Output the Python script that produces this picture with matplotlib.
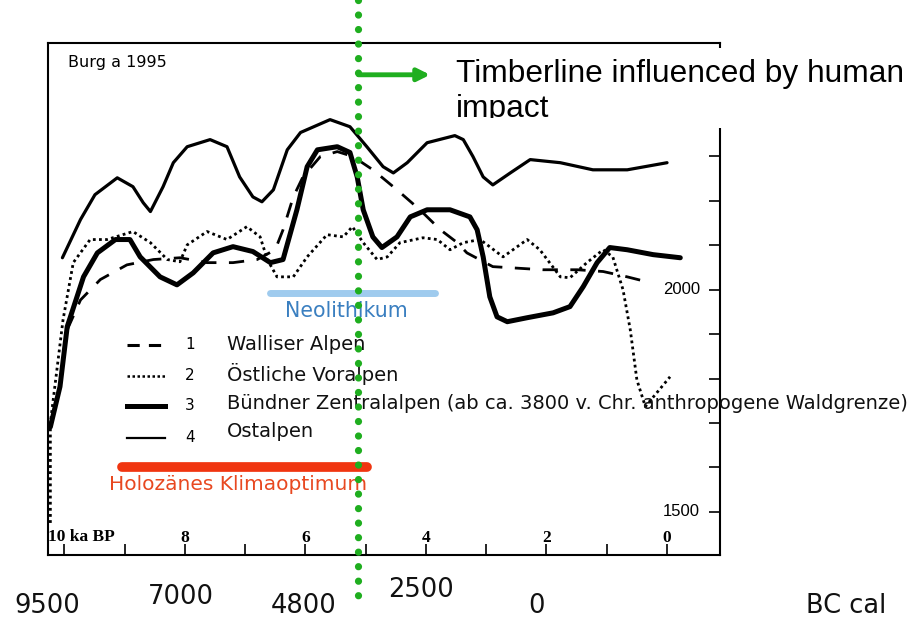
import matplotlib
matplotlib.use("Agg")
import matplotlib.pyplot as plt
import matplotlib.transforms as mtransforms
from matplotlib.patches import Rectangle

# timberline curves (x: ka BP, y: m a.s.l.), read from Burga 1995
walliser_ka = [9.95, 9.73, 9.40, 8.96, 8.52, 8.08, 7.63, 7.20, 6.80, 6.50,
               6.37, 6.20, 6.04, 5.75, 5.47, 5.21, 4.88, 4.48, 4.10, 3.76,
               3.48, 3.32, 2.89, 2.06, 1.49, 1.06, 0.66, 0.28]
walliser_m = [1910, 1977, 2023, 2056, 2068, 2072, 2061, 2061, 2068, 2090,
              2135, 2209, 2254, 2300, 2311, 2300, 2270, 2225, 2180, 2135,
              2106, 2083, 2052, 2045, 2045, 2041, 2029, 2016]

voralpen_ka = [10.23, 10.23, 10.02, 9.85, 9.57, 9.29, 8.86, 8.57, 8.29, 8.08,
               7.96, 7.63, 7.30, 6.97, 6.75, 6.63, 6.47, 6.20, 5.97, 5.64,
               5.37, 5.22, 5.04, 4.81, 4.64, 4.43, 4.05, 3.81, 3.60, 3.38,
               3.10, 2.72, 2.32, 2.11, 1.77, 1.61, 1.33, 1.06, 0.90, 0.73,
               0.61, 0.50, 0.36, 0.17, -0.05]
voralpen_m = [1475, 1700, 1932, 2061, 2113, 2113, 2131, 2106, 2068, 2063,
              2101, 2131, 2113, 2142, 2119, 2068, 2029, 2029, 2074, 2124,
              2119, 2142, 2106, 2068, 2074, 2106, 2117, 2113, 2090, 2106,
              2113, 2074, 2113, 2090, 2029, 2027, 2061, 2090, 2074, 2000,
              1910, 1797, 1737, 1768, 1804]

buendner_ka = [10.23, 10.07, 9.95, 9.68, 9.45, 9.15, 8.91, 8.74, 8.41, 8.13,
               7.86, 7.53, 7.20, 6.87, 6.58, 6.37, 6.14, 5.97, 5.80, 5.47,
               5.26, 5.14, 5.04, 4.88, 4.73, 4.48, 4.26, 3.98, 3.60, 3.27,
               3.15, 3.05, 2.94, 2.82, 2.65, 2.32, 1.89, 1.61, 1.39, 1.16,
               0.95, 0.66, 0.23, -0.22]
buendner_m = [1691, 1782, 1917, 2029, 2083, 2113, 2113, 2074, 2029, 2011,
              2038, 2083, 2097, 2086, 2061, 2068, 2180, 2277, 2315, 2322,
              2309, 2254, 2180, 2119, 2095, 2119, 2164, 2180, 2180, 2164,
              2135, 2074, 1984, 1939, 1928, 1937, 1948, 1962, 2007, 2061,
              2095, 2090, 2079, 2072]

ostalpen_ka = [10.03, 9.73, 9.49, 9.12, 8.86, 8.69, 8.57, 8.36, 8.19, 7.96,
               7.58, 7.30, 7.09, 6.87, 6.72, 6.53, 6.30, 6.08, 5.59, 5.26,
               4.98, 4.71, 4.54, 4.31, 3.98, 3.52, 3.38, 3.22, 3.05, 2.89,
               2.60, 2.27, 1.77, 1.23, 0.66, 0.00]
ostalpen_m = [2072, 2158, 2214, 2252, 2232, 2196, 2176, 2232, 2286, 2322,
              2338, 2322, 2254, 2209, 2198, 2225, 2315, 2354, 2383, 2367,
              2322, 2277, 2263, 2286, 2331, 2347, 2338, 2300, 2254, 2236,
              2263, 2293, 2286, 2270, 2270, 2286]

legend_labels = ["Walliser Alpen", "Östliche Voralpen",
                 "Bündner Zentralalpen (ab ca. 3800 v. Chr. anthropogene Waldgrenze)",
                 "Ostalpen"]

# periods (start ka, end ka, height m)
neolithikum = [6.58, 3.85, 1993]
klimaoptimum = [9.04, 4.98, 1601]
human_impact_ka = 5.12

bc_labels = ["9500", "7000", "4800", "2500", "0", "BC cal"]

green = "#1fae1f"

fig = plt.figure(figsize=(9.22, 6.2), dpi=100)
ax = fig.add_axes([0.052, 0.105, 0.729, 0.826])
ax.set_xlim(10.27, -0.88)
ax.set_ylim(1403, 2556)

ax.plot(walliser_ka, walliser_m, color="black", lw=2.0, ls=(0, (5.5, 4.5)))
ax.plot(voralpen_ka, voralpen_m, color="black", lw=2.0, ls=(0, (1, 1.2)))
ax.plot(buendner_ka, buendner_m, color="black", lw=3.6, solid_capstyle="round",
        solid_joinstyle="round")
ax.plot(ostalpen_ka, ostalpen_m, color="black", lw=2.3, solid_capstyle="round",
        solid_joinstyle="round")

for sp in ax.spines.values():
    sp.set_linewidth(1.5)

# x axis: ka BP, labels inside
ax.set_xticks([8, 6, 4, 2, 0])
ax.set_xticklabels(["8", "6", "4", "2", "0"])
ax.set_xticks([10, 9, 7, 5, 3, 1], minor=True)
ax.tick_params(axis="x", which="both", direction="in", length=8, width=1.2,
               pad=-18, labelsize=12.5)
for lab in ax.get_xticklabels():
    lab.set_fontfamily("Liberation Serif")
    lab.set_fontweight("bold")
ax.text(0.0, 0.034, "10 ka BP", transform=ax.transAxes, ha="left", va="center",
        fontsize=12.5, fontweight="bold", family="Liberation Serif")

# y axis: on the right, ticks inward, labels inside
ax.yaxis.tick_right()
ax.set_yticks(range(1500, 2401, 100))
ax.tick_params(axis="y", direction="in", length=8, width=1.2, labelright=False)
ytr = mtransforms.blended_transform_factory(ax.transAxes, ax.transData)
for val in [2000, 1500]:
    ax.text(0.970, val, str(val), transform=ytr, ha="right", va="center",
            fontsize=12, family="Liberation Sans")

ax.text(0.030, 0.961, "Burg a 1995", transform=ax.transAxes, ha="left",
        va="center", fontsize=11.5)

# legend drawn by hand
styles = [dict(lw=2.2, ls=(0, (4, 3))), dict(lw=1.8, ls=(0, (1, 1))),
          dict(lw=3.6, ls="-"), dict(lw=1.6, ls="-")]
line_y = [0.410, 0.350, 0.291, 0.2285]
text_y = [0.410, 0.3535, 0.295, 0.240]
for i, (st, ly, ty, lab) in enumerate(zip(styles, line_y, text_y, legend_labels)):
    ax.plot([0.1176, 0.174], [ly, ly], transform=ax.transAxes, color="black", **st)
    ax.text(0.211, ly, str(i + 1), transform=ax.transAxes, ha="center",
            va="center", fontsize=11)
    ax.text(0.266, ty, lab, transform=ax.transAxes, ha="left", va="center",
            fontsize=14, color="#111111")

# period bars
ax.plot(neolithikum[:2], [neolithikum[2]] * 2, color="#9fcbee", lw=5,
        solid_capstyle="round")
ax.text((neolithikum[0] + neolithikum[1]) / 2 + 0.1, neolithikum[2] - 42, "Neolithikum",
        ha="center", va="center", fontsize=14.8, color="#3a7fc0")
ax.plot(klimaoptimum[:2], [klimaoptimum[2]] * 2, color="#f03510", lw=7,
        solid_capstyle="round")
ax.text((klimaoptimum[0] + klimaoptimum[1]) / 2 + 0.1, klimaoptimum[2] - 40,
        "Holozänes Klimaoptimum", ha="center", va="center", fontsize=14.5,
        color="#e84820")

# human impact marker
xtr = mtransforms.blended_transform_factory(ax.transData, ax.transAxes)
ax.plot([human_impact_ka, human_impact_ka], [1.084, -0.088], transform=xtr,
        color=green, lw=5.2, ls=(0, (0.01, 2.0)), dash_capstyle="round",
        clip_on=False, zorder=10)
ax.annotate("", xy=(3.93, 0.9375), xytext=(human_impact_ka, 0.9375),
            xycoords=xtr, textcoords=xtr,
            arrowprops=dict(arrowstyle="-|>", color=green, lw=3.5,
                            mutation_scale=18, shrinkA=0, shrinkB=0),
            zorder=10)

# white box with annotation text
box = Rectangle((437 / 922, (620 - 128) / 620), 1 - 437 / 922, 80 / 620,
                transform=fig.transFigure, facecolor="white", edgecolor="none",
                zorder=5)
fig.add_artist(box)
t = fig.text(456 / 922, (620 - 59) / 620, "Timberline influenced by human\nimpact",
             ha="left", va="top", fontsize=22.8, family="Liberation Sans",
             linespacing=1.22, zorder=6)
clip = mtransforms.TransformedBbox(
    mtransforms.Bbox([[437 / 922, (620 - 118) / 620], [1.0, (620 - 48) / 620]]),
    fig.transFigure)
t.set_clip_box(clip)
t.set_clip_on(True)

# calendar years below
bc_pos = [(47, 606), (181, 597), (304, 606), (421, 590), (537, 606), (846, 606)]
for lab, (px, py) in zip(bc_labels, bc_pos):
    fig.text(px / 922, (620 - py) / 620, lab, ha="center", va="center",
             fontsize=18.5, color="#111111")

fig.savefig("out.png", dpi=100)
